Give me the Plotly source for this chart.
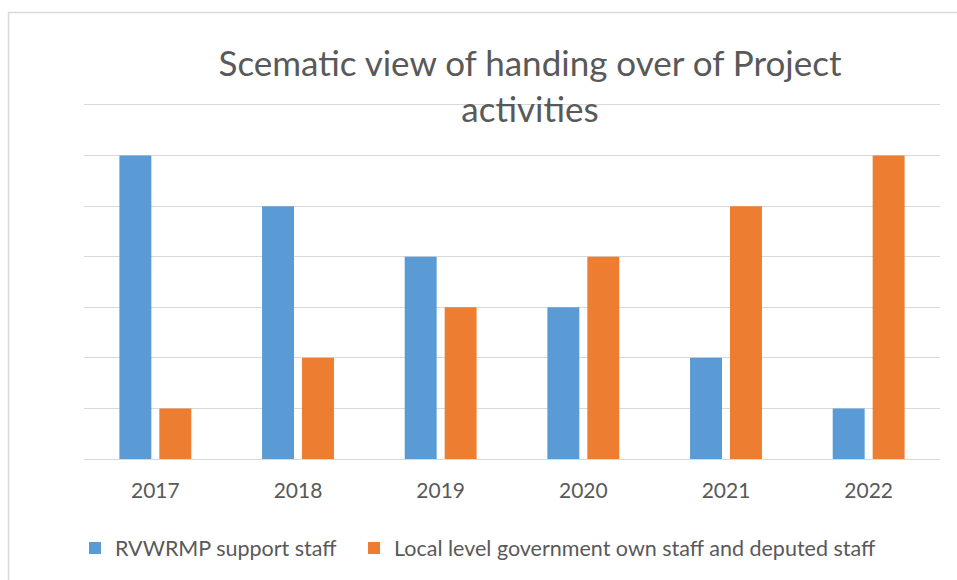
import plotly.graph_objects as go

years = ["2017", "2018", "2019", "2020", "2021", "2022"]
rvwrmp_staff = [6, 5, 4, 3, 2, 1]
local_staff = [1, 2, 3, 4, 5, 6]
series_names = ["RVWRMP support staff", "Local level government own staff and deputed staff"]
title_text = "Scematic view of handing over of Project<br>activities"

FONT = "Lato, Calibri, sans-serif"
TXT = "#595959"
GRID = "#D9D9D9"

fig = go.Figure()
fig.add_trace(go.Bar(x=years, y=rvwrmp_staff, name=series_names[0], legend="legend",
                     marker=dict(color="#5B9BD5", line=dict(width=0))))
fig.add_trace(go.Bar(x=years, y=local_staff, name=series_names[1], legend="legend2",
                     marker=dict(color="#ED7D31", line=dict(width=0))))

W, H = 957, 580
L, R, T, B = 84, 17, 105, 121
pw, ph = W - L - R, H - T - B

def px_to_paper_x(px):
    return (px - L) / pw

def px_to_paper_y(py):
    return (H - B - py) / ph

legend_style = dict(orientation="h", xanchor="left", yanchor="middle",
                    y=px_to_paper_y(548),
                    font=dict(family=FONT, size=21.5, color=TXT),
                    bgcolor="rgba(0,0,0,0)")

fig.update_layout(
    width=W, height=H,
    margin=dict(l=L, r=R, t=T, b=B),
    paper_bgcolor="white", plot_bgcolor="white",
    font=dict(family=FONT, color=TXT, size=21),
    barmode="group", bargap=0.44, bargroupgap=0.2,
    title=dict(text=title_text, x=530 / W, xanchor="center",
               y=1 - 76 / H, yanchor="top", yref="container",
               font=dict(family=FONT, size=35, color=TXT)),
    showlegend=True,
    legend=dict(x=px_to_paper_x(75), **legend_style),
    legend2=dict(x=px_to_paper_x(354), **legend_style),
    xaxis=dict(showgrid=False, showline=True, mirror=True, linecolor=GRID, linewidth=1,
               ticks="outside", ticklen=13, tickcolor="rgba(0,0,0,0)",
               tickfont=dict(family=FONT, size=21, color=TXT)),
    yaxis=dict(range=[0, 7], dtick=1, showgrid=True, gridcolor=GRID, gridwidth=1,
               showticklabels=False, zeroline=True, zerolinecolor=GRID,
               zerolinewidth=1, fixedrange=True),
    shapes=[dict(type="rect", xref="paper", yref="paper",
                 x0=px_to_paper_x(8.5), x1=px_to_paper_x(1000),
                 y0=px_to_paper_y(700), y1=px_to_paper_y(12.5),
                 line=dict(color="#D9D9D9", width=1.5), fillcolor="rgba(0,0,0,0)",
                 layer="below")],
)

fig.write_html("out.html")
